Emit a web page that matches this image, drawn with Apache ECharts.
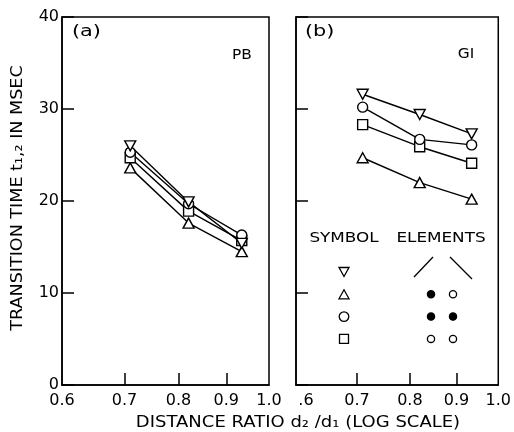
<!DOCTYPE html>
<html>
<head>
<meta charset="utf-8">
<script src="https://cdn.jsdelivr.net/npm/echarts@6/dist/echarts.min.js"></script>
<style>
  html, body { margin: 0; padding: 0; background: #fff; }
  #chart { width: 514px; height: 432px; }
</style>
</head>
<body>
<div id="chart"></div>
<script>
// 距离比 d2/d1 (三个测量点)
var ratios = [0.71, 0.82, 0.935];
var xLabels = [0.6, 0.7, 0.8, 0.9, 1.0];
var xTicks = [0.7, 0.8, 0.9];
// (a) PB
var pbDown = [26.0, 19.9, 15.4];
var pbUp = [23.6, 17.6, 14.5];
var pbCircle = [25.3, 19.7, 16.3];
var pbSquare = [24.7, 18.9, 15.7];
// (b) GI
var giDown = [31.6, 29.4, 27.3];
var giUp = [24.7, 22.0, 20.2];
var giCircle = [30.2, 26.7, 26.1];
var giSquare = [28.3, 25.9, 24.1];
// 图例: 符号 + 元素 (实心/空心)
var legendSymbols = ['down', 'up', 'circle', 'square'];
var legendElements = [[], ['filled', 'open'], ['filled', 'filled'], ['open', 'open']];

var FONT = 'DejaVu Sans';
var black = '#000';

(function () {
  var myChart = echarts.init(document.getElementById('chart'));

  var symbolMap = {
    down: { symbol: 'triangle', rotate: 180, size: [11, 10] },
    up: { symbol: 'triangle', rotate: 0, size: [11, 10] },
    circle: { symbol: 'circle', rotate: 0, size: 10 },
    square: { symbol: 'rect', rotate: 0, size: 10 }
  };

  function makeLine(values, gridIndex, kind) {
    var s = symbolMap[kind];
    return {
      type: 'line',
      xAxisIndex: gridIndex,
      yAxisIndex: gridIndex,
      data: ratios.map(function (x, i) { return [x, values[i]]; }),
      symbol: s.symbol,
      symbolRotate: s.rotate,
      symbolSize: s.size,
      showAllSymbol: true,
      lineStyle: { color: black, width: 1.4 },
      itemStyle: { color: '#fff', borderColor: black, borderWidth: 1.4 },
      emphasis: { disabled: true },
      animation: false
    };
  }

  function makeX(gridIndex) {
    return {
      type: 'log',
      logBase: 10,
      gridIndex: gridIndex,
      min: 0.6,
      max: 1.0,
      axisLine: { lineStyle: { color: black, width: 1.5 } },
      axisTick: {
        inside: true,
        length: 12,
        customValues: xTicks,
        lineStyle: { color: black, width: 1.5 }
      },
      axisLabel: {
        customValues: xLabels,
        margin: 8,
        color: black,
        fontSize: 16,
        fontFamily: FONT,
        // 右图的 0.6 只露出 ".6"
        formatter: function (v) {
          if (gridIndex === 1 && Math.abs(v - 0.6) < 1e-6) return '{p|.6}';
          return (+v).toFixed(1);
        },
        rich: {
          p: { padding: [0, 0, 0, 20], fontSize: 16, fontFamily: FONT, color: black }
        }
      },
      splitLine: { show: false },
      minorTick: { show: false }
    };
  }

  function makeY(gridIndex) {
    return {
      type: 'value',
      gridIndex: gridIndex,
      position: 'left',
      min: 0,
      max: 40,
      interval: 10,
      axisLine: { show: true, onZero: false, lineStyle: { color: black, width: 1.5 } },
      axisTick: {
        inside: true,
        length: 12,
        lineStyle: { color: black, width: 1.5 }
      },
      axisLabel: {
        show: gridIndex === 0,
        margin: 3,
        color: black,
        fontSize: 16,
        fontFamily: FONT
      },
      splitLine: { show: false }
    };
  }

  // 图例的图形
  var graphics = [];
  var textStyle = function (text, x, y, size, align, sx) {
    return {
      type: 'text', x: x, y: y, silent: true, scaleX: sx || 1.2,
      style: {
        text: text, fill: black, font: size + 'px "' + FONT + '"',
        textAlign: align || 'center', textVerticalAlign: 'middle'
      }
    };
  };
  graphics.push(textStyle('(a)', 72, 32, 16, 'left', 1.3));
  graphics.push(textStyle('PB', 242, 55, 14, 'center', 1.1));
  graphics.push(textStyle('(b)', 305, 32, 16, 'left', 1.3));
  graphics.push(textStyle('GI', 466, 54, 14, 'center', 1.1));
  graphics.push(textStyle('SYMBOL', 344, 238, 14));
  graphics.push(textStyle('ELEMENTS', 441, 238, 14));
  graphics.push({ type: 'line', silent: true, shape: { x1: 414, y1: 277, x2: 433, y2: 257 }, style: { stroke: black, lineWidth: 1.3 } });
  graphics.push({ type: 'line', silent: true, shape: { x1: 450, y1: 257, x2: 472, y2: 279 }, style: { stroke: black, lineWidth: 1.3 } });

  var legX = 344, legY = 272, legGap = 22.3, dotX = [431, 453];
  legendSymbols.forEach(function (kind, i) {
    var cy = legY + i * legGap;
    var st = { fill: '#fff', stroke: black, lineWidth: 1.3 };
    if (kind === 'down') {
      graphics.push({ type: 'polygon', silent: true, shape: { points: [[legX - 5, cy - 4.5], [legX + 5, cy - 4.5], [legX, cy + 4.5]] }, style: st });
    } else if (kind === 'up') {
      graphics.push({ type: 'polygon', silent: true, shape: { points: [[legX - 5, cy + 4.5], [legX + 5, cy + 4.5], [legX, cy - 4.5]] }, style: st });
    } else if (kind === 'circle') {
      graphics.push({ type: 'circle', silent: true, shape: { cx: legX, cy: cy, r: 4.8 }, style: st });
    } else {
      graphics.push({ type: 'rect', silent: true, shape: { x: legX - 4.5, y: cy - 4.5, width: 9, height: 9 }, style: st });
    }
    legendElements[i].forEach(function (e, j) {
      graphics.push({
        type: 'circle', silent: true,
        shape: { cx: dotX[j], cy: cy, r: 3.6 },
        style: { fill: e === 'filled' ? black : '#fff', stroke: black, lineWidth: 1.3 }
      });
    });
  });

  // 坐标轴标题
  graphics.push(textStyle('DISTANCE RATIO d\u2082 /d\u2081 (LOG SCALE)', 298, 423, 15, 'center', 1.2));
  graphics.push({
    type: 'text', x: 18, y: 198, rotation: Math.PI / 2, scaleX: 1.17, silent: true,
    style: {
      text: 'TRANSITION TIME t\u2081,\u2082 IN MSEC', fill: black, font: '15px "' + FONT + '"',
      textAlign: 'center', textVerticalAlign: 'middle'
    }
  });

  var option = {
    backgroundColor: '#fff',
    animation: false,
    grid: [
      { left: 62, right: 245, top: 17, bottom: 47, show: true, borderColor: black, borderWidth: 1.5, backgroundColor: 'transparent' },
      { left: 296, right: 11, top: 17, bottom: 47, show: true, borderColor: black, borderWidth: 1.5, backgroundColor: 'transparent' }
    ],
    xAxis: [makeX(0), makeX(1)],
    yAxis: [makeY(0), makeY(1)],
    series: [
      makeLine(pbUp, 0, 'up'),
      makeLine(pbSquare, 0, 'square'),
      makeLine(pbCircle, 0, 'circle'),
      makeLine(pbDown, 0, 'down'),
      makeLine(giUp, 1, 'up'),
      makeLine(giSquare, 1, 'square'),
      makeLine(giCircle, 1, 'circle'),
      makeLine(giDown, 1, 'down')
    ],
    graphic: graphics
  };
  myChart.setOption(option);
})();
</script>
</body>
</html>
